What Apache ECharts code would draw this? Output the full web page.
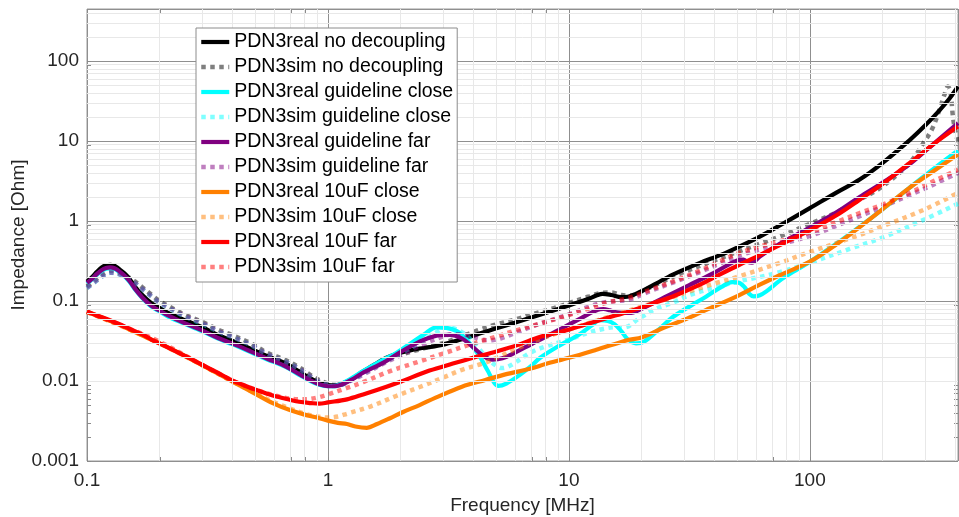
<!DOCTYPE html>
<html><head><meta charset="utf-8">
<script src="https://cdn.jsdelivr.net/npm/echarts@6/dist/echarts.min.js"></script>
<style>html,body{margin:0;padding:0;background:#fff}#c{width:959px;height:517px}</style>
</head><body><div id="c"></div>
<script>
// ---------- axis ticks ----------
const xTickLabels = ['0.1', '1', '10', '100'];
const yTickLabels = ['0.001', '0.01', '0.1', '1', '10', '100'];
const xTitle = 'Frequency [MHz]';
const yTitle = 'Impedance [Ohm]';

// ---------- series names ----------
const seriesNames = [
  'PDN3real no decoupling', 'PDN3sim no decoupling',
  'PDN3real guideline close', 'PDN3sim guideline close',
  'PDN3real guideline far', 'PDN3sim guideline far',
  'PDN3real 10uF close', 'PDN3sim 10uF close',
  'PDN3real 10uF far', 'PDN3sim 10uF far'
];

// ---------- data: [frequency MHz, impedance Ohm] ----------
const realNoDecoupling = [[0.1,0.175],[0.105,0.2],[0.11,0.232],[0.115,0.262],[0.12,0.279],[0.125,0.284],[0.13,0.276],[0.135,0.255],[0.143,0.222],[0.15,0.19],[0.158,0.152],[0.17,0.118],[0.185,0.094],[0.2,0.082],[0.217,0.071],[0.25,0.059],[0.3,0.047],[0.35,0.0375],[0.4,0.032],[0.48,0.0252],[0.56,0.0205],[0.66,0.0168],[0.77,0.0128],[0.85,0.0107],[0.92,0.0095],[1.0,0.0089],[1.07,0.0088],[1.15,0.0093],[1.27,0.0108],[1.4,0.0132],[1.6,0.0168],[1.75,0.0196],[2.0,0.0225],[2.4,0.0255],[2.64,0.0265],[3.0,0.0285],[3.5,0.0325],[4.0,0.0368],[4.26,0.0392],[5.0,0.0455],[6.0,0.054],[6.87,0.0613],[8.0,0.071],[10,0.088],[12,0.106],[13,0.117],[13.8,0.123],[15,0.119],[16.5,0.112],[17.5,0.113],[20,0.132],[23,0.165],[27,0.214],[35,0.3],[43,0.38],[51,0.48],[62,0.64],[75,0.88],[100,1.45],[130,2.3],[161,3.3],[200,5.3],[259,10.2],[300,15.5],[340,23],[380,34],[412,48]];
const simNoDecoupling = [[0.1,0.152],[0.105,0.17],[0.11,0.19],[0.115,0.212],[0.12,0.23],[0.125,0.237],[0.13,0.236],[0.14,0.218],[0.15,0.195],[0.158,0.176],[0.17,0.148],[0.185,0.12],[0.2,0.1],[0.22,0.085],[0.254,0.0674],[0.3,0.055],[0.35,0.0438],[0.4,0.0375],[0.48,0.0295],[0.56,0.0225],[0.66,0.0185],[0.77,0.0145],[0.85,0.0118],[0.91,0.0104],[1.0,0.0093],[1.07,0.0089],[1.15,0.0092],[1.27,0.0107],[1.4,0.0128],[1.6,0.0162],[1.8,0.019],[2.0,0.0213],[2.4,0.0248],[3.0,0.0298],[3.5,0.035],[4.26,0.0438],[5.0,0.051],[6.0,0.059],[7.0,0.068],[8.5,0.08],[10,0.094],[12,0.113],[13.8,0.127],[15,0.128],[16.5,0.119],[18,0.117],[20,0.132],[25,0.18],[30,0.23],[40,0.32],[51,0.42],[62,0.52],[75,0.64],[100,0.92],[130,1.3],[161,1.85],[200,2.7],[259,5.3],[300,10],[323,14.5],[345,24.6],[362,38],[374,48],[383,42],[392,21],[400,14],[412,9.7]];
const realGuidelineClose = [[0.1,0.165],[0.105,0.187],[0.11,0.214],[0.115,0.238],[0.12,0.253],[0.125,0.258],[0.13,0.252],[0.135,0.235],[0.143,0.204],[0.15,0.174],[0.158,0.14],[0.17,0.108],[0.185,0.085],[0.2,0.074],[0.217,0.064],[0.25,0.053],[0.3,0.042],[0.35,0.0338],[0.4,0.0289],[0.48,0.0228],[0.56,0.0186],[0.66,0.0152],[0.77,0.0117],[0.85,0.0099],[0.92,0.009],[1.0,0.0086],[1.07,0.0087],[1.15,0.0094],[1.27,0.0111],[1.4,0.0133],[1.7,0.0185],[1.92,0.0224],[2.2,0.0295],[2.5,0.038],[2.82,0.0468],[3.1,0.0462],[3.4,0.0425],[3.6,0.0375],[3.9,0.029],[4.26,0.0203],[4.6,0.0135],[4.9,0.0095],[5.1,0.0087],[5.5,0.0093],[6.2,0.0117],[6.9,0.015],[7.6,0.0195],[9,0.027],[11,0.0379],[12.5,0.05],[13.4,0.0575],[14.5,0.0565],[15.5,0.051],[16.5,0.042],[17.5,0.0335],[19,0.0295],[20.5,0.031],[24,0.046],[27,0.063],[32,0.087],[37.2,0.114],[43,0.15],[47.6,0.172],[50.5,0.17],[53.5,0.15],[56,0.123],[58.5,0.114],[62,0.118],[66,0.132],[75,0.18],[85,0.23],[100,0.31],[130,0.53],[161,0.85],[200,1.4],[259,2.6],[330,4.6],[412,7.6]];
const simGuidelineClose = [[0.1,0.145],[0.105,0.162],[0.11,0.181],[0.115,0.2],[0.12,0.218],[0.125,0.225],[0.13,0.224],[0.14,0.207],[0.15,0.185],[0.158,0.167],[0.17,0.14],[0.185,0.114],[0.2,0.095],[0.22,0.081],[0.254,0.064],[0.3,0.052],[0.35,0.0415],[0.4,0.0355],[0.48,0.028],[0.56,0.0214],[0.66,0.0176],[0.77,0.0138],[0.85,0.0112],[0.91,0.0099],[1.0,0.0089],[1.07,0.0086],[1.15,0.009],[1.27,0.0105],[1.4,0.0124],[1.7,0.017],[2.0,0.022],[2.4,0.03],[2.8,0.04],[3.1,0.047],[3.4,0.0445],[3.8,0.036],[4.2,0.026],[4.6,0.019],[5.0,0.0155],[5.3,0.0145],[5.8,0.016],[6.9,0.0225],[8,0.027],[10,0.033],[12,0.04],[14,0.045],[15.5,0.047],[17,0.047],[19.5,0.06],[23,0.08],[27,0.095],[32,0.12],[40,0.145],[50,0.175],[62,0.2],[75,0.23],[100,0.3],[150,0.46],[200,0.62],[300,1.05],[412,1.65]];
const realGuidelineFar = [[0.1,0.168],[0.105,0.19],[0.11,0.218],[0.115,0.243],[0.12,0.258],[0.125,0.263],[0.13,0.257],[0.135,0.24],[0.143,0.208],[0.15,0.178],[0.158,0.143],[0.17,0.11],[0.185,0.087],[0.2,0.076],[0.217,0.066],[0.25,0.054],[0.3,0.043],[0.35,0.0345],[0.4,0.0295],[0.48,0.0233],[0.56,0.019],[0.66,0.0155],[0.77,0.0119],[0.85,0.0101],[0.92,0.0091],[1.0,0.0086],[1.07,0.0086],[1.15,0.0091],[1.27,0.0106],[1.4,0.0127],[1.7,0.017],[2.0,0.023],[2.4,0.031],[2.7,0.0355],[2.9,0.0375],[3.2,0.0378],[3.6,0.034],[4.0,0.0265],[4.4,0.0208],[4.8,0.0185],[5.3,0.0192],[6.0,0.0228],[7.0,0.029],[8.0,0.0355],[9.4,0.046],[11,0.059],[12.2,0.07],[13.2,0.078],[13.9,0.0795],[14.8,0.0765],[15.8,0.072],[17.8,0.0708],[20,0.08],[25,0.112],[31.6,0.158],[40,0.225],[46,0.285],[50,0.322],[53,0.33],[55,0.31],[57.5,0.302],[62,0.36],[75,0.52],[100,0.83],[130,1.3],[161,2.0],[200,3.0],[259,5.1],[330,9.5],[412,16.8]];
const simGuidelineFar = [[0.1,0.146],[0.105,0.163],[0.11,0.182],[0.115,0.201],[0.12,0.219],[0.125,0.226],[0.13,0.225],[0.14,0.208],[0.15,0.186],[0.158,0.168],[0.17,0.141],[0.185,0.115],[0.2,0.096],[0.22,0.082],[0.254,0.065],[0.3,0.053],[0.35,0.042],[0.4,0.0358],[0.48,0.0282],[0.56,0.0216],[0.66,0.0177],[0.77,0.0139],[0.85,0.0113],[0.91,0.01],[1.0,0.0089],[1.07,0.0087],[1.15,0.0091],[1.27,0.0104],[1.4,0.012],[1.7,0.0165],[2.0,0.021],[2.5,0.029],[3.0,0.036],[3.3,0.0385],[3.7,0.0378],[4.2,0.034],[4.6,0.0322],[5.2,0.034],[6.0,0.04],[6.9,0.047],[8,0.055],[10,0.068],[12.1,0.085],[14,0.096],[16,0.1],[18,0.105],[22,0.135],[27,0.17],[35,0.23],[43,0.3],[51,0.37],[62,0.44],[75,0.51],[100,0.65],[130,0.88],[161,1.15],[200,1.5],[259,2.1],[330,2.9],[412,4.0]];
const real10uFClose = [[0.1,0.073],[0.11,0.066],[0.12,0.059],[0.135,0.051],[0.15,0.044],[0.17,0.037],[0.2,0.0295],[0.25,0.0212],[0.3,0.0158],[0.35,0.0124],[0.4,0.0099],[0.45,0.0082],[0.5,0.0069],[0.59,0.0053],[0.7,0.0043],[0.8,0.0038],[0.9,0.0035],[1.0,0.0032],[1.1,0.003],[1.2,0.0029],[1.3,0.0027],[1.45,0.0026],[1.6,0.0029],[1.8,0.0034],[2.05,0.0041],[2.4,0.005],[2.8,0.0062],[3.6,0.0085],[4.5,0.0103],[5.5,0.0122],[6.9,0.0142],[8,0.0163],[10,0.0195],[13,0.0246],[17.8,0.0328],[20,0.035],[25,0.047],[30,0.058],[37,0.077],[50,0.115],[62,0.16],[75,0.21],[100,0.31],[130,0.52],[161,0.84],[200,1.4],[259,2.6],[330,4.3],[412,6.8]];
const sim10uFClose = [[0.1,0.073],[0.15,0.044],[0.2,0.0295],[0.3,0.0158],[0.4,0.0099],[0.5,0.007],[0.6,0.0054],[0.7,0.0045],[0.8,0.0039],[0.9,0.0036],[1.0,0.0035],[1.1,0.0036],[1.2,0.0039],[1.5,0.0048],[1.92,0.0065],[2.5,0.0088],[3.0,0.011],[3.6,0.0138],[4.5,0.017],[5,0.0195],[6.2,0.026],[7.5,0.033],[10,0.044],[14,0.061],[20,0.085],[27,0.112],[32,0.133],[40,0.165],[50,0.2],[75,0.3],[100,0.41],[150,0.62],[200,0.86],[300,1.4],[412,2.25]];
const real10uFFar = [[0.1,0.074],[0.11,0.066],[0.12,0.06],[0.135,0.052],[0.15,0.045],[0.17,0.038],[0.185,0.033],[0.2,0.0295],[0.25,0.0212],[0.3,0.016],[0.35,0.0126],[0.4,0.0102],[0.45,0.0088],[0.5,0.0078],[0.59,0.0066],[0.7,0.0058],[0.76,0.0055],[0.85,0.0053],[0.92,0.0052],[1.0,0.0054],[1.2,0.0059],[1.4,0.0068],[1.75,0.0085],[2.0,0.0098],[2.64,0.0135],[3.3,0.0165],[4.0,0.0195],[5.0,0.0234],[6.2,0.0285],[7.56,0.0355],[9.4,0.0415],[12,0.052],[14.3,0.061],[17.8,0.074],[22,0.092],[27,0.114],[35,0.16],[43,0.22],[51,0.284],[62,0.375],[75,0.5],[100,0.77],[130,1.2],[161,1.85],[200,2.9],[259,5.3],[330,9.4],[412,15.2]];
const sim10uFFar = [[0.1,0.073],[0.15,0.045],[0.2,0.031],[0.3,0.016],[0.4,0.0102],[0.5,0.0078],[0.6,0.0066],[0.7,0.006],[0.8,0.0059],[0.9,0.0062],[1.0,0.0068],[1.2,0.0082],[1.4,0.0097],[1.8,0.0132],[2.4,0.0176],[3.0,0.022],[3.87,0.0285],[5,0.036],[6.2,0.044],[7.56,0.052],[9.4,0.063],[12,0.08],[14.3,0.095],[17.8,0.11],[22,0.14],[27,0.175],[35,0.24],[43,0.32],[51,0.4],[62,0.48],[75,0.56],[100,0.72],[130,0.98],[161,1.26],[200,1.6],[259,2.24],[330,3.2],[412,4.4]];

const seriesData = [realNoDecoupling, simNoDecoupling, realGuidelineClose, simGuidelineClose,
  realGuidelineFar, simGuidelineFar, real10uFClose, sim10uFClose, real10uFFar, sim10uFFar];
const seriesColors = ['#000000', 'rgba(0,0,0,0.5)', '#00ffff', 'rgba(0,255,255,0.5)',
  '#800080', 'rgba(128,0,128,0.5)', '#ff8000', 'rgba(255,128,0,0.5)', '#ff0000', 'rgba(255,0,0,0.5)'];

// ---------- axis ranges ----------
const X_MIN = 0.1, X_MAX = 412, Y_MIN = 0.001, Y_MAX = 447;

// minor grid positions (2..9 within each decade)
function minorPositions(lo, hi) {
  const out = [];
  for (let d = lo; d < hi; d *= 10) {
    for (let k = 2; k <= 9; k++) { const v = +(k * d).toPrecision(6); if (v < hi) out.push(v); }
  }
  return out;
}
const xMinor = minorPositions(X_MIN, X_MAX);
const yMinor = minorPositions(Y_MIN, Y_MAX);
const xAllTicks = xMinor.concat([0.1, 1, 10, 100]);
const yAllTicks = yMinor.concat([0.001, 0.01, 0.1, 1, 10, 100]);

const FONT = '"Liberation Sans", Arial, Helvetica, sans-serif';
const chart = echarts.init(document.getElementById('c'), null, { renderer: 'canvas' });

const SOLID_W = 4.2, DOT_W = 4.5, DOT_DASH = [4.5, 4.5];
const lineSeries = seriesNames.map((name, i) => {
  const sim = i % 2 === 1;
  return {
    name: name,
    type: 'line',
    data: seriesData[i],
    symbol: 'none',
    smooth: 0.35,
    z: 3,
    lineStyle: {
      color: seriesColors[i],
      width: sim ? DOT_W : SOLID_W,
      type: sim ? DOT_DASH : 'solid',
      cap: 'butt',
      join: 'round'
    },
    itemStyle: { color: seriesColors[i] },
    emphasis: { disabled: true }
  };
});

const gridMinorSeries = {
  type: 'line', data: [], silent: true, z: 1, symbol: 'none',
  markLine: {
    silent: true, symbol: ['none', 'none'], animation: false,
    label: { show: false },
    lineStyle: { color: '#e8e8e8', width: 1, type: 'solid' },
    emphasis: { disabled: true },
    data: xMinor.map(v => ({ xAxis: v })).concat(yMinor.map(v => ({ yAxis: v })))
  }
};

const tickLen = 4;
const xTickSeries = {
  type: 'custom', silent: true, z: 4, clip: false,
  data: xAllTicks.map(v => [v, Y_MIN]),
  renderItem: function (params, api) {
    const b = api.coord([api.value(0), Y_MIN]);
    const t = api.coord([api.value(0), Y_MAX]);
    const st = { stroke: '#8a8a8a', lineWidth: 1 };
    return { type: 'group', children: [
      { type: 'line', shape: { x1: Math.round(b[0]) + 0.5, y1: b[1], x2: Math.round(b[0]) + 0.5, y2: b[1] - tickLen }, style: st },
      { type: 'line', shape: { x1: Math.round(t[0]) + 0.5, y1: t[1], x2: Math.round(t[0]) + 0.5, y2: t[1] + tickLen }, style: st }
    ]};
  }
};
const yTickSeries = {
  type: 'custom', silent: true, z: 4, clip: false,
  data: yAllTicks.map(v => [X_MIN, v]),
  renderItem: function (params, api) {
    const l = api.coord([X_MIN, api.value(1)]);
    const r = api.coord([X_MAX, api.value(1)]);
    const st = { stroke: '#8a8a8a', lineWidth: 1 };
    return { type: 'group', children: [
      { type: 'line', shape: { x1: l[0], y1: Math.round(l[1]) + 0.5, x2: l[0] + tickLen, y2: Math.round(l[1]) + 0.5 }, style: st },
      { type: 'line', shape: { x1: r[0], y1: Math.round(r[1]) + 0.5, x2: r[0] - tickLen, y2: Math.round(r[1]) + 0.5 }, style: st }
    ]};
  }
};

function labelFor(list, base) {
  return function (v) {
    const e = Math.round(Math.log10(v));
    const s = list[e - base];
    return s === undefined ? '' : s;
  };
}

chart.setOption({
  animation: false,
  backgroundColor: '#ffffff',
  textStyle: { fontFamily: FONT },
  grid: { left: 87, right: 1, top: 9, bottom: 56, containLabel: false, outerBoundsMode: 'none',
          show: true, borderColor: '#9a9a9a', borderWidth: 1, backgroundColor: 'transparent' },
  legend: {
    data: seriesNames.map((n, i) => ({
      name: n,
      lineStyle: { width: i % 2 === 1 ? DOT_W : SOLID_W, type: i % 2 === 1 ? DOT_DASH : 'solid', color: seriesColors[i], cap: 'butt' }
    })),
    orient: 'vertical',
    left: 196, top: 28,
    padding: [4, 4, 5, 3],
    itemWidth: 28, itemHeight: 14, itemGap: 5,
    itemStyle: { opacity: 0 },
    backgroundColor: '#ffffff',
    borderColor: '#8c8c8c', borderWidth: 1,
    textStyle: { fontSize: 19.5, color: '#000', fontFamily: FONT, lineHeight: 20 },
    selectedMode: false,
    z: 10
  },
  xAxis: {
    type: 'log', logBase: 10, min: X_MIN, max: X_MAX,
    name: xTitle, nameLocation: 'middle', nameGap: 35, nameMoveOverlap: false,
    nameTextStyle: { fontSize: 19, color: '#262626', fontFamily: FONT },
    axisLine: { show: false },
    axisTick: { show: false },
    axisLabel: { fontSize: 19, color: '#262626', margin: 10, fontFamily: FONT, showMaxLabel: false, formatter: labelFor(xTickLabels, -1) },
    splitLine: { show: true, lineStyle: { color: '#8f8f8f', width: 1 } },
    minorSplitLine: { show: false }
  },
  yAxis: {
    type: 'log', logBase: 10, min: Y_MIN, max: Y_MAX,
    name: yTitle, nameLocation: 'middle', nameGap: 59, nameRotate: 90, nameMoveOverlap: false,
    nameTextStyle: { fontSize: 19, color: '#262626', fontFamily: FONT },
    axisLine: { show: false },
    axisTick: { show: false },
    axisLabel: { fontSize: 19, color: '#262626', margin: 8, fontFamily: FONT, showMaxLabel: false, formatter: labelFor(yTickLabels, -3) },
    splitLine: { show: true, lineStyle: { color: '#8f8f8f', width: 1 } }
  },
  series: [gridMinorSeries].concat(lineSeries).concat([xTickSeries, yTickSeries])
});
</script>
</body></html>
